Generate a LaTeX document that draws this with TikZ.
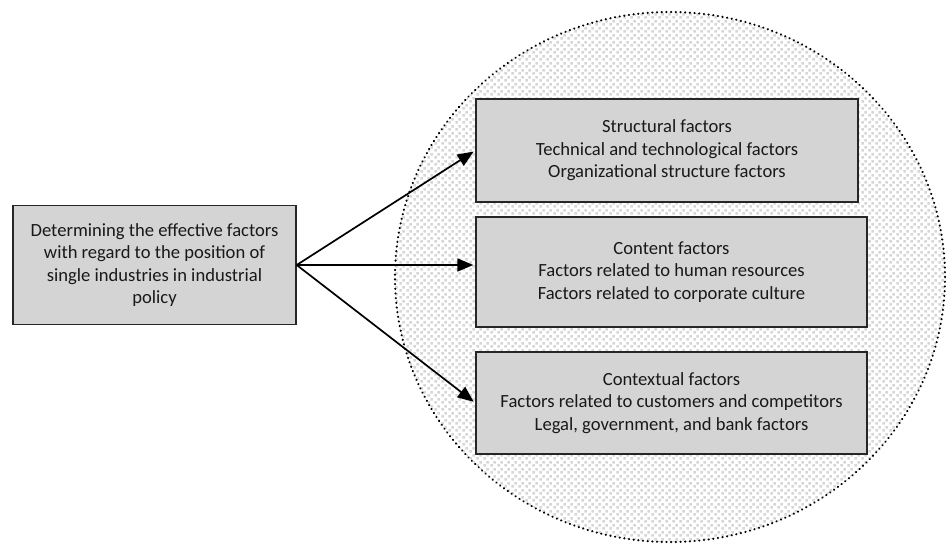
\documentclass[tikz,border=0pt]{standalone}
\usepackage{fontspec}
\setmainfont{Carlito}
\usetikzlibrary{arrows.meta,patterns.meta}

\tikzdeclarepattern{
  name=pebbles, type=uncolored,
  bounding box={(0pt,0pt) and (7pt,7pt)},
  tile size={(7pt,7pt)},
  code={
    \fill (0.3pt,0.3pt) rectangle (3.2pt,3.2pt);
    \fill (3.8pt,3.8pt) rectangle (6.7pt,6.7pt);
  }
}

\begin{document}
\begin{tikzpicture}[x=1pt, y=-1pt,
  box/.style={draw=black!85, line width=1.4pt, fill=black!17, inner sep=0pt,
    align=center, text=black!90, font=\fontsize{18.6}{22.5}\selectfont},
  link/.style={line width=1.7pt, -{Triangle[length=16pt,width=13pt]}, shorten >=2pt}]
  \useasboundingbox (0,0) rectangle (946,544);

  % dotted region holding the factor groups
  \fill[pattern=pebbles, pattern color=black!16] (670,277) ellipse [x radius=275, y radius=265];
  \draw[line width=2.3pt, dash pattern=on 0.1pt off 4.6pt, line cap=round]
    (670,277) ellipse [x radius=275, y radius=265];

  \node[box, minimum width=283, minimum height=119] (goal) at (154.5,265)
    {Determining the effective factors\\with regard to the position of\\single industries in industrial\\policy};

  \node[box, minimum width=382, minimum height=103] (structural) at (667,150.5)
    {Structural factors\\Technical and technological factors\\Organizational structure factors};
  \node[box, minimum width=391, minimum height=110] (content) at (671.5,272)
    {Content factors\\Factors related to human resources\\Factors related to corporate culture};
  \node[box, minimum width=391, minimum height=102] (contextual) at (671.5,403)
    {Contextual factors\\Factors related to customers and competitors\\Legal, government, and bank factors};

  \draw[link] (goal.east) -- (structural.west);
  \draw[link] (goal.east) -- (content.west |- goal.east);
  \draw[link] (goal.east) -- (contextual.west);
\end{tikzpicture}
\end{document}
